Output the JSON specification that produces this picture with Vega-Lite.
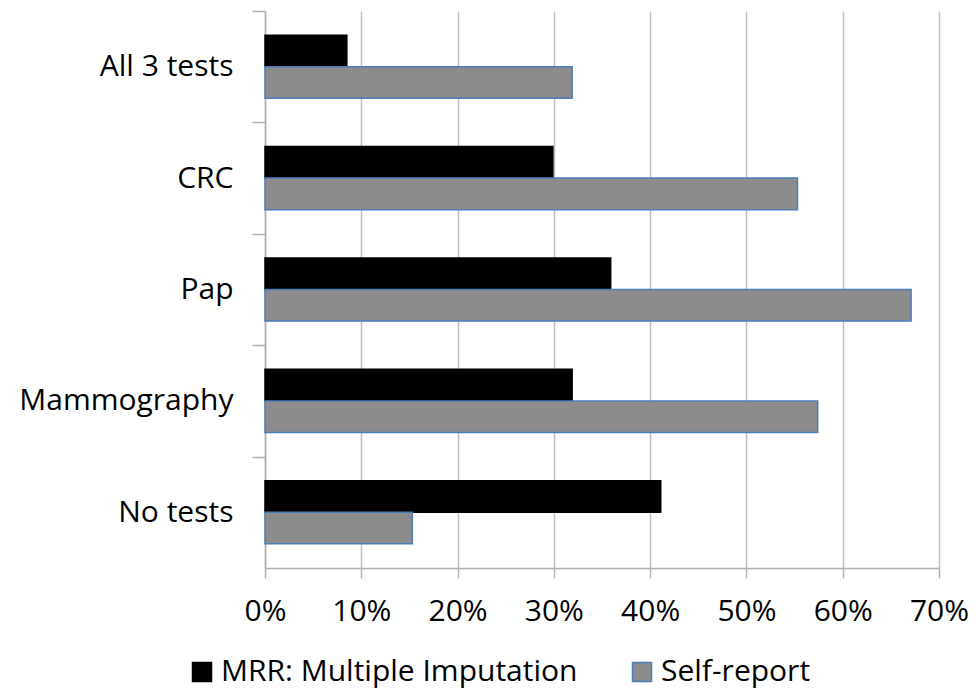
{
  "$schema": "https://vega.github.io/schema/vega-lite/v6.json",
  "width": 674,
  "height": 557,
  "autosize": {"type": "none"},
  "padding": {"left": 265, "top": 11, "right": 38, "bottom": 124},
  "background": "#ffffff",
  "data": {
    "values": [
      {"category": "All 3 tests", "series": "MRR: Multiple Imputation", "value": 0.085},
      {"category": "All 3 tests", "series": "Self-report", "value": 0.319},
      {"category": "CRC", "series": "MRR: Multiple Imputation", "value": 0.299},
      {"category": "CRC", "series": "Self-report", "value": 0.553},
      {"category": "Pap", "series": "MRR: Multiple Imputation", "value": 0.359},
      {"category": "Pap", "series": "Self-report", "value": 0.671},
      {"category": "Mammography", "series": "MRR: Multiple Imputation", "value": 0.319},
      {"category": "Mammography", "series": "Self-report", "value": 0.574},
      {"category": "No tests", "series": "MRR: Multiple Imputation", "value": 0.411},
      {"category": "No tests", "series": "Self-report", "value": 0.153}
    ]
  },
  "mark": {"type": "bar", "strokeWidth": 1.5},
  "encoding": {
    "y": {
      "field": "category",
      "type": "nominal",
      "sort": ["All 3 tests", "CRC", "Pap", "Mammography", "No tests"],
      "scale": {"paddingInner": 0.434, "paddingOuter": 0.217},
      "axis": {
        "title": null,
        "tickOffset": -55.7,
        "labelOffset": 55.7,
        "tickSize": 13,
        "tickColor": "#b0b0b0",
        "tickWidth": 1.5,
        "domainColor": "#b0b0b0",
        "domainWidth": 1.5,
        "labelPadding": 19,
        "labelFont": "Open Sans",
        "labelFontSize": 30,
        "labelColor": "#000000",
        "labelLimit": 400
      }
    },
    "yOffset": {
      "field": "series",
      "type": "nominal",
      "sort": ["MRR: Multiple Imputation", "Self-report"],
      "scale": {"paddingInner": 0, "paddingOuter": 0}
    },
    "x": {
      "field": "value",
      "type": "quantitative",
      "scale": {"domain": [0, 0.7], "nice": false},
      "axis": {
        "title": null,
        "values": [0, 0.1, 0.2, 0.3, 0.4, 0.5, 0.6, 0.7],
        "format": ".0%",
        "grid": true,
        "gridColor": "#c0c0c0",
        "gridWidth": 1.5,
        "tickSize": 10,
        "tickColor": "#b0b0b0",
        "tickWidth": 1.5,
        "domainColor": "#b0b0b0",
        "domainWidth": 1.5,
        "labelPadding": 18,
        "labelFont": "Open Sans",
        "labelFontSize": 30,
        "labelColor": "#000000",
        "labelFlush": false
      }
    },
    "fill": {
      "field": "series",
      "type": "nominal",
      "scale": {"domain": ["MRR: Multiple Imputation", "Self-report"], "range": ["#000000", "#8c8c8c"]},
      "legend": {
        "title": null,
        "orient": "none",
        "direction": "horizontal",
        "legendX": -78,
        "legendY": 646,
        "symbolType": "square",
        "symbolSize": 361,
        "symbolStrokeWidth": 1.5,
        "labelFont": "Open Sans",
        "labelFontSize": 30,
        "labelColor": "#000000",
        "labelOffset": 4,
        "labelLimit": 600,
        "columnPadding": 49
      }
    },
    "stroke": {
      "field": "series",
      "type": "nominal",
      "scale": {"domain": ["MRR: Multiple Imputation", "Self-report"], "range": ["#000000", "#4a7ebb"]},
      "legend": {
        "title": null,
        "orient": "none",
        "direction": "horizontal",
        "legendX": -78,
        "legendY": 646,
        "symbolType": "square",
        "symbolSize": 361,
        "symbolStrokeWidth": 1.5,
        "labelFont": "Open Sans",
        "labelFontSize": 30,
        "labelColor": "#000000",
        "labelOffset": 4,
        "labelLimit": 600,
        "columnPadding": 49
      }
    }
  },
  "config": {"view": {"stroke": null}}
}
